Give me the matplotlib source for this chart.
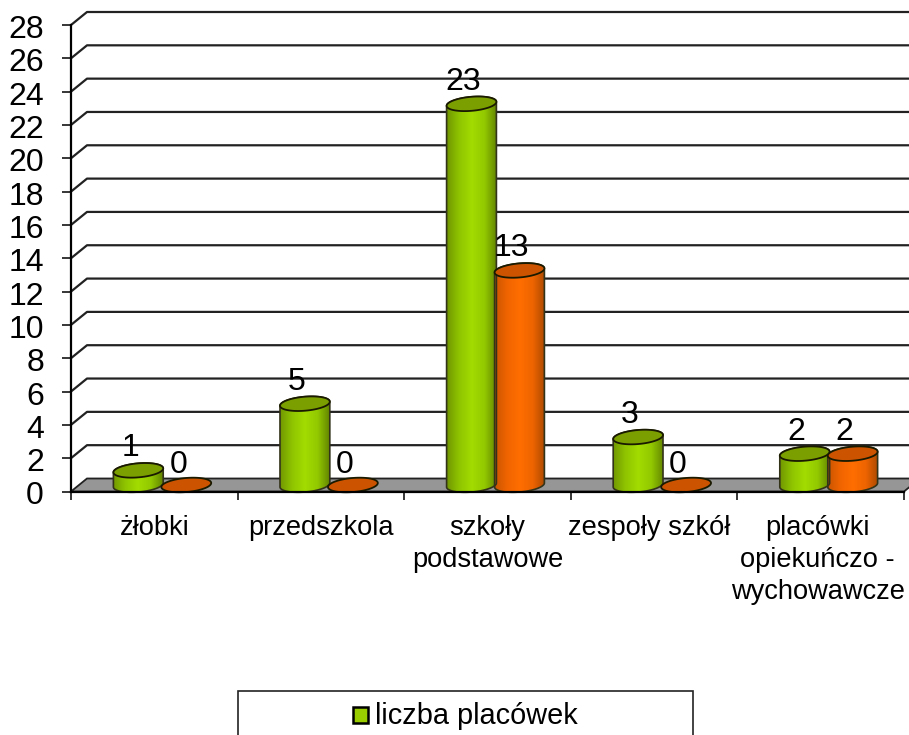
import numpy as np
import matplotlib
matplotlib.use('Agg')
import matplotlib.pyplot as plt
from matplotlib.colors import LinearSegmentedColormap
from matplotlib.patches import Polygon, Rectangle
from matplotlib.transforms import ScaledTranslation

plt.rcParams['font.family'] = ['Liberation Sans', 'DejaVu Sans']

categories = ['żłobki', 'przedszkola', 'szkoły\npodstawowe', 'zespoły szkół',
              'placówki\nopiekuńczo -\nwychowawcze']
green_values = [1, 5, 23, 3, 2]
orange_values = [0, 0, 13, 0, 2]
legend_label = 'liczba placówek'
y_ticks = list(range(0, 29, 2))

W, H = 909, 735
LEFT, RIGHT, TOP, BOTTOM = 71, 904, 25, 491.5

fig = plt.figure(figsize=(W / 100, H / 100), dpi=100)
ax = fig.add_axes([LEFT / W, 1 - BOTTOM / H, (RIGHT - LEFT) / W, (BOTTOM - TOP) / H])
ax.set_xlim(0, len(categories))
ax.set_ylim(0, y_ticks[-1])

# pixels per data unit, the fake 3d depth is easier to think about in pixels
sx = (RIGHT - LEFT) / len(categories)
sy = (BOTTOM - TOP) / y_ticks[-1]
depth_x = 16 / sx
depth_y = 13 / sy

green_cmap = LinearSegmentedColormap.from_list('g', ['#6f9400', '#8fc400', '#a2dc00', '#92c800', '#5f7f00'])
orange_cmap = LinearSegmentedColormap.from_list('o', ['#c85400', '#f06400', '#ff6e00', '#ee6400', '#a84800'])


def ellipse(cx, cy, t):
  a, b, tilt = 25, 7, np.radians(5)
  px = a * np.cos(t) * np.cos(tilt) - b * np.sin(t) * np.sin(tilt)
  py = a * np.cos(t) * np.sin(tilt) + b * np.sin(t) * np.cos(tilt)
  return np.column_stack([cx + px / sx, cy + py / sy])


def cylinder(cx, val, cmap, top_color):
  y0 = depth_y / 2
  y1 = y0
  t = np.linspace(0, 2 * np.pi, 80)
  if val > 0:
    y1 = val + depth_y / 2 - 2 / sy
    low = np.linspace(np.pi, 2 * np.pi, 40)
    up = np.linspace(0, np.pi, 40)
    pts = np.vstack([ellipse(cx, y0, low), ellipse(cx, y1, up)])
    body = Polygon(pts, closed=True, facecolor='none', edgecolor='#33331a', lw=1.2, zorder=4, clip_on=False)
    ax.add_patch(body)
    grad = np.linspace(0, 1, 128).reshape(1, -1)
    im = ax.imshow(grad, cmap=cmap, aspect='auto', zorder=3,
                   extent=[cx - 26 / sx, cx + 26 / sx, y0 - 9 / sy, y1 + 9 / sy])
    im.set_clip_path(body)
  ax.add_patch(Polygon(ellipse(cx, y1, t), closed=True, facecolor=top_color,
                       edgecolor='#1a1a00', lw=1.3, zorder=5, clip_on=False))


# back wall lines and the floor
ax.add_patch(Polygon([(0, 0), (depth_x, depth_y), (len(categories) + depth_x, depth_y), (len(categories), 0)],
                     closed=True, facecolor='#969696', edgecolor='#222222', lw=1.3, zorder=1, clip_on=False))
for v in y_ticks[1:]:
  ax.plot([0, depth_x, len(categories) + depth_x], [v, v + depth_y, v + depth_y],
          color='#222222', lw=1.6, zorder=2, clip_on=False)

for i in range(len(categories)):
  center = i + 0.5
  label_shift = 24 / sx
  bar_green = center - label_shift + depth_x / 2
  bar_orange = center + label_shift + depth_x / 2
  cylinder(bar_green, green_values[i], green_cmap, '#7c9f00')
  cylinder(bar_orange, orange_values[i], orange_cmap, '#cc5400')
  ax.annotate(str(green_values[i]), (center - label_shift, green_values[i]), xytext=(0, 26.5 * 0.72),
              textcoords='offset points', ha='center', va='center', fontsize=23, zorder=6)
  ax.annotate(str(orange_values[i]), (center + label_shift, orange_values[i]), xytext=(0, 26.5 * 0.72),
              textcoords='offset points', ha='center', va='center', fontsize=23, zorder=6)

ax.patch.set_visible(False)
for side in ['top', 'right']:
  ax.spines[side].set_visible(False)
ax.spines['left'].set_linewidth(1.6)
ax.spines['bottom'].set_linewidth(1.6)
ax.spines['left'].set_zorder(7)
ax.spines['bottom'].set_zorder(7)

ax.set_yticks(y_ticks)
ax.tick_params(axis='y', length=6.5, width=1.1, pad=13, labelsize=23)
down = ScaledTranslation(0, -1.5 / 100, fig.dpi_scale_trans)
for lbl in ax.get_yticklabels():
  lbl.set_transform(lbl.get_transform() + down)
ax.set_xticks(range(len(categories) + 1))
ax.set_xticklabels([])
ax.tick_params(axis='x', which='major', length=6, width=1.1)
# the last two labels sit a little left of the category centre
label_nudge = [0, 0, 0, 5, 3]
ax.set_xticks([i + 0.5 - label_nudge[i] / sx for i in range(len(categories))], minor=True)
ax.set_xticklabels(categories, minor=True, fontsize=19.6, linespacing=1.3, ha='center')
ax.tick_params(axis='x', which='minor', length=0, pad=17)

# legend box runs off the bottom of the picture
fig.add_artist(Rectangle((238 / W, -10 / H), 455 / W, (H - 691 + 10) / H, transform=fig.transFigure,
                         facecolor='white', edgecolor='#222222', lw=1.2))
fig.add_artist(Rectangle((353 / W, 1 - 723 / H), 15 / W, 16 / H, transform=fig.transFigure,
                         facecolor='#9acd00', edgecolor='black', lw=1.8))
fig.text(375 / W, 1 - 716 / H, legend_label, fontsize=20.8, ha='left', va='center')

fig.savefig('out.png', dpi=100)
